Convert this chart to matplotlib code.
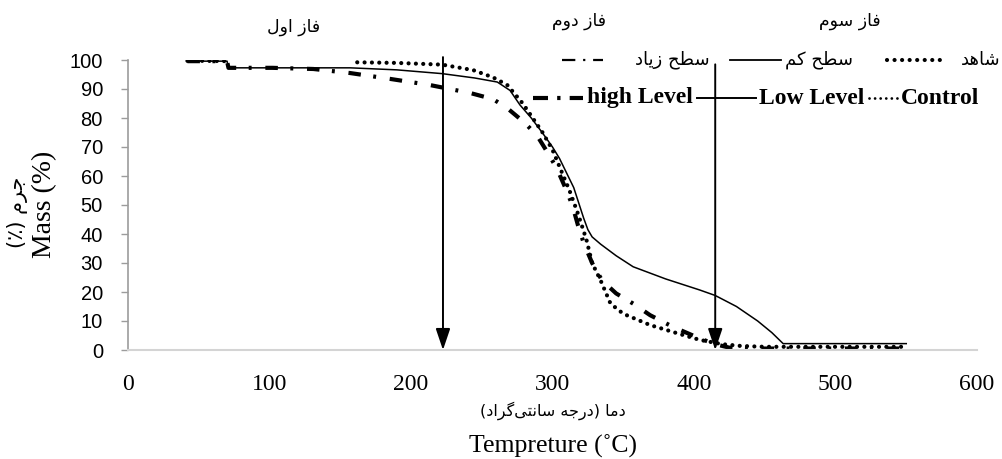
import numpy as np
import matplotlib
matplotlib.use("Agg")
import matplotlib.pyplot as plt
from matplotlib.lines import Line2D

# ---------------- data ----------------
control_T = [42, 55, 70, np.nan, 162, 190, 222, 244, 258, 268, 279, 286, 293, 300, 306,
             312, 318, 324, 328, 334, 341, 350, 369, 390, 404, 420, 433, 450, 500, 550]
control_M = [99.7, 99.7, 99.6, np.nan, 99.2, 99.0, 98.4, 96.5, 94.0, 91.4, 85.0, 80.0, 75.0, 69.0, 62.0,
             55.0, 47.0, 38.0, 30.0, 24.0, 16.0, 12.5, 8.6, 5.5, 3.5, 2.0, 1.4, 1.1, 1.1, 1.1]

low_T = [42, 70, 71, 100, 130, 157, 190, 222, 245, 261, 270, 277, 285, 293, 300, 305, 310,
         315, 319, 322, 325, 328, 334, 345, 357, 380, 404, 415, 430, 445, 455, 463, 500, 550]
low_M = [99.6, 99.6, 97.3, 97.3, 97.3, 97.3, 96.6, 95.3, 93.8, 92.4, 89.5, 84.5, 80.0, 74.8, 70.0, 66.0, 61.0,
         56.0, 50.0, 45.5, 41.5, 39.0, 36.5, 32.5, 28.7, 24.5, 20.7, 18.8, 15.0, 10.0, 6.0, 2.2, 2.2, 2.2]

high_T = [42, 70, 71, 102, 131, 157, 185, 213, 242, 258, 268, 280, 289, 296, 303, 309, 314,
          318, 322, 328, 335, 345, 357, 369, 385, 404, 415, 425, 450, 500, 550]
high_M = [99.6, 99.6, 97.3, 97.3, 96.9, 95.5, 93.5, 91.4, 88.6, 86.5, 83.4, 78.5, 74.0, 68.5, 62.7, 56.0, 50.0,
          43.0, 37.0, 30.0, 24.0, 19.5, 16.0, 12.0, 8.0, 4.0, 2.0, 0.8, 0.5, 0.5, 0.5]

x_ticks = [0, 100, 200, 300, 400, 500, 600]
y_ticks = [0, 10, 20, 30, 40, 50, 60, 70, 80, 90, 100]

phase_arrows_T = [222.6, 415.0]
phase_arrows_top = [101.0, 98.5]
phase_labels = ["فاز اول", "فاز دوم", "فاز سوم"]
phase_label_T = [117, 319, 510]
phase_label_M = [111.3, 113.3, 113.3]

series_en = ["high Level", "Low Level", "Control"]
series_fa = ["سطح زیاد", "سطح کم", "شاهد"]

# ---------------- minimal Persian shaping ----------------
FORMS = {
    'ا': ('\uFE8D', '\uFE8E', None, None),
    'د': ('\uFEA9', '\uFEAA', None, None),
    'ر': ('\uFEAD', '\uFEAE', None, None),
    'ز': ('\uFEAF', '\uFEB0', None, None),
    'و': ('\uFEED', '\uFEEE', None, None),
    'ف': ('\uFED1', '\uFED2', '\uFED3', '\uFED4'),
    'ل': ('\uFEDD', '\uFEDE', '\uFEDF', '\uFEE0'),
    'م': ('\uFEE1', '\uFEE2', '\uFEE3', '\uFEE4'),
    'س': ('\uFEB1', '\uFEB2', '\uFEB3', '\uFEB4'),
    'ش': ('\uFEB5', '\uFEB6', '\uFEB7', '\uFEB8'),
    'ه': ('\uFEE9', '\uFEEA', '\uFEEB', '\uFEEC'),
    'ط': ('\uFEC1', '\uFEC2', '\uFEC3', '\uFEC4'),
    'ح': ('\uFEA1', '\uFEA2', '\uFEA3', '\uFEA4'),
    'ج': ('\uFE9D', '\uFE9E', '\uFE9F', '\uFEA0'),
    'ن': ('\uFEE5', '\uFEE6', '\uFEE7', '\uFEE8'),
    'ت': ('\uFE95', '\uFE96', '\uFE97', '\uFE98'),
    'ک': ('\uFB8E', '\uFB8F', '\uFB90', '\uFB91'),
    'گ': ('\uFB92', '\uFB93', '\uFB94', '\uFB95'),
    'ی': ('\uFBFC', '\uFBFD', '\uFBFE', '\uFBFF'),
}
MIRROR = {'(': ')', ')': '('}


def fa(s):
    out = []
    for i, c in enumerate(s):
        if c not in FORMS:
            if c != '\u200c':
                out.append(MIRROR.get(c, c))
            continue
        prev = s[i - 1] if i > 0 else None
        nxt = s[i + 1] if i + 1 < len(s) else None
        cp = prev in FORMS and FORMS[prev][2] is not None
        cn = nxt in FORMS and FORMS[c][2] is not None
        iso, fin, ini, med = FORMS[c]
        if cp and cn:
            g = med
        elif cp:
            g = fin
        elif cn:
            g = ini
        else:
            g = iso
        out.append(g)
    return ''.join(reversed(out))


FA_FONT = ['DejaVu Sans']
SERIF = ['Liberation Serif', 'DejaVu Serif']
SANS = ['Liberation Sans', 'DejaVu Sans']

# ---------------- figure ----------------
W, H = 1002, 459
fig = plt.figure(figsize=(W / 100, H / 100), dpi=100)
ax = fig.add_axes([128 / W, 1 - 350 / H, (977 - 128) / W, (350 - 60) / H])

styles = {
    'high': dict(color='black', lw=3.0, linestyle=(0, (3, 3, 0.7, 3.3)), dash_capstyle='butt'),
    'low': dict(color='black', lw=1.1, linestyle='-'),
    'control': dict(color='black', lw=3.0, linestyle=(0, (0.01, 1.75)), dash_capstyle='round'),
}

ax.plot(low_T, low_M, **styles['low'])
ax.plot(high_T, high_M, **styles['high'])
ax.plot(control_T, control_M, **styles['control'])

ax.set_xlim(0, 600)
ax.set_ylim(0, 100)
ax.set_xticks(x_ticks)
ax.set_yticks(y_ticks)
for s in ['top', 'right']:
    ax.spines[s].set_visible(False)
ax.spines['left'].set_color('#9c9c9c')
ax.spines['left'].set_linewidth(1.2)
ax.spines['bottom'].set_color('#d4d4d4')
ax.spines['bottom'].set_linewidth(1.5)

ax.tick_params(axis='y', direction='out', length=5, width=1.0, color='#9c9c9c', pad=13)
ax.tick_params(axis='x', length=0, pad=17)
for lab in ax.get_yticklabels():
    lab.set_fontfamily(SANS)
    lab.set_fontsize(14.5)
for lab in ax.get_xticklabels():
    lab.set_fontfamily(SERIF)
    lab.set_fontsize(17)

# arrows marking the phases
for t, top in zip(phase_arrows_T, phase_arrows_top):
    ax.annotate('', xy=(t, 0), xytext=(t, top),
                arrowprops=dict(arrowstyle='-|>,head_length=0.65,head_width=0.22',
                                lw=1.4, color='black', mutation_scale=20,
                                shrinkA=0, shrinkB=0),
                annotation_clip=False)

for lab, t, m in zip(phase_labels, phase_label_T, phase_label_M):
    ax.text(t, m, fa(lab), ha='center', va='center', fontsize=12.5,
            family=FA_FONT, clip_on=False)

# axis labels
fig.text(45 / W, 1 - 204 / H, 'Mass (%)', rotation=90, ha='center', va='center',
         fontsize=20, family=SERIF)
fig.text(18 / W, 1 - 212 / H, fa('جرم (٪)'), rotation=90, ha='center', va='center',
         fontsize=15, family=FA_FONT)
fig.text(553 / W, 1 - 411 / H, fa('دما (درجه سانتی\u200cگراد)'), ha='center', va='center',
         fontsize=11.5, family=FA_FONT)
fig.text(553 / W, 1 - 446 / H, 'Tempreture (˚C)', ha='center', va='center',
         fontsize=18.5, family=SERIF)

# legends (drawn as figure-level proxy lines + text)
keys = ['high', 'low', 'control']
row2_styles = {
    'high': dict(color='black', lw=3.0, linestyle=(0, (3.6, 2.2, 0.8, 2.2)), dash_capstyle='butt'),
    'low': dict(color='black', lw=1.4, linestyle='-'),
    'control': dict(color='black', lw=2.0, linestyle=(0, (0.01, 2.0)), dash_capstyle='round'),
}
row1_styles = {
    'high': dict(color='black', lw=1.6, linestyle=(0, (6, 3.5, 1, 3.5)), dash_capstyle='butt'),
    'low': dict(color='black', lw=1.3, linestyle='-'),
    'control': dict(color='black', lw=3.0, linestyle=(0, (0.01, 1.8)), dash_capstyle='round'),
}
row2_handles = [(533, 583), (697, 756), (869, 898)]
row2_text_x = [587, 759, 901]
row2_y = 98
row1_handles = [(562, 603), (730, 781), (887, 947)]
row1_text_right = [710, 853, 1000]
row1_y = 60


def fig_line(x0, x1, y, st):
    ln = Line2D([x0 / W, x1 / W], [1 - y / H, 1 - y / H], transform=fig.transFigure, **st)
    fig.add_artist(ln)


for k, (x0, x1), tx, name in zip(keys, row2_handles, row2_text_x, series_en):
    fig_line(x0, x1, row2_y, row2_styles[k])
    fig.text(tx / W, 1 - row2_y / H, name, ha='left', va='center', fontsize=17,
             fontweight='bold', family=SERIF)

for k, (x0, x1), tr, name in zip(keys, row1_handles, row1_text_right, series_fa):
    fig_line(x0, x1, row1_y, row1_styles[k])
    fig.text(tr / W, 1 - row1_y / H, fa(name), ha='right', va='center', fontsize=13,
             family=FA_FONT)

fig.savefig('out.png', dpi=100)
